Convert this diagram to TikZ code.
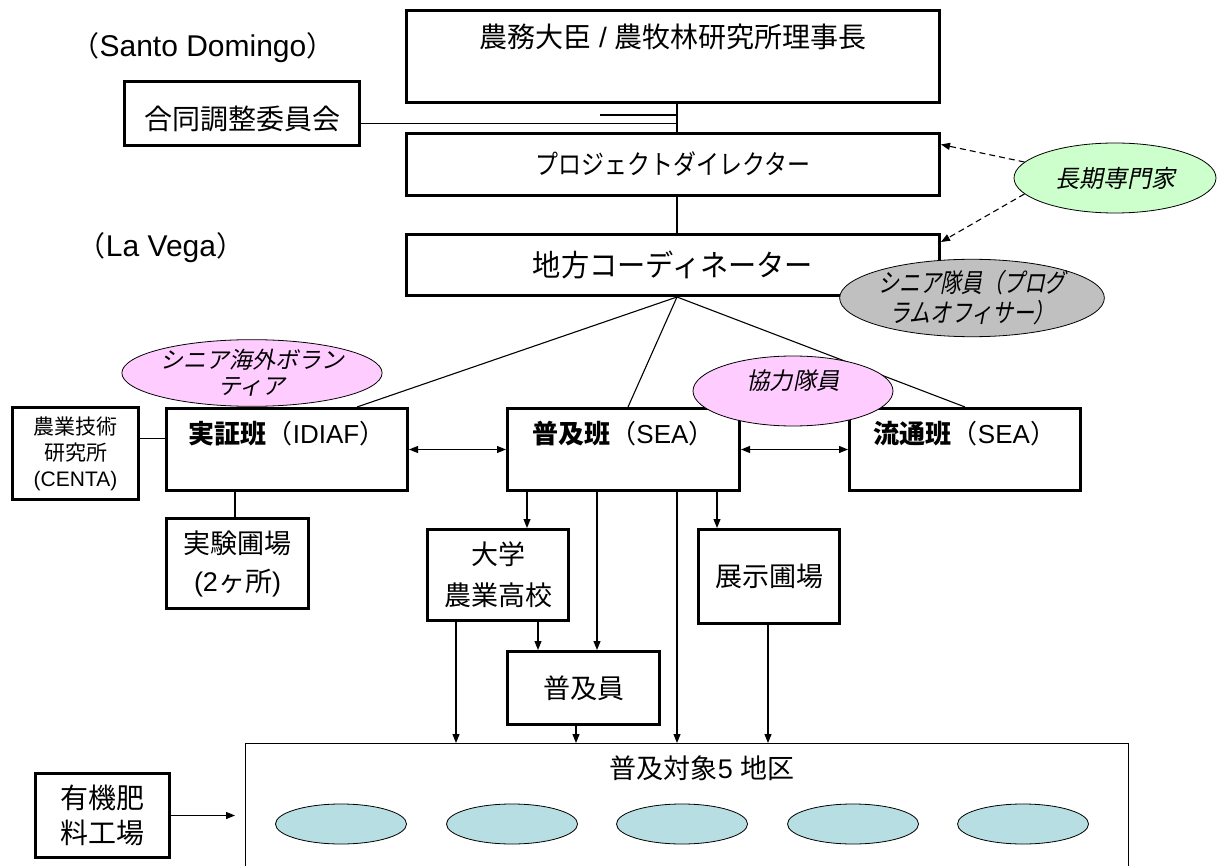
\documentclass[tikz,border=0pt]{standalone}
\usepackage{fontspec}
\setmainfont{Noto Sans CJK JP}
\newfontfamily\lat{Liberation Sans}
\newfontfamily\jpit[FakeSlant=0.2]{Noto Sans CJK JP}
\newfontfamily\jpitc[FakeSlant=0.2,FakeStretch=0.8]{Noto Sans CJK JP}
\newfontfamily\jpn[FakeStretch=0.85]{Noto Sans CJK JP}
\newfontfamily\jpm[FakeStretch=0.94]{Noto Sans CJK JP}
\usetikzlibrary{arrows.meta,shapes.geometric,calc}
\definecolor{chokiG}{RGB}{204,255,204}
\definecolor{grayE}{RGB}{192,192,192}
\definecolor{pinkE}{RGB}{255,204,255}
\definecolor{blueE}{RGB}{183,222,226}
\tikzset{
  box/.style={draw, line width=3pt, fill=white, inner sep=0pt, align=center, anchor=north west},
  conn/.style={line width=1.1pt},
  arr/.style={line width=1.1pt, -{Triangle[length=9pt,width=7pt]}},
  darr/.style={line width=1.1pt, {Triangle[length=9pt,width=7pt]}-{Triangle[length=9pt,width=7pt]}},
  dasharr/.style={line width=1.1pt, dash pattern=on 6pt off 4pt, -{Triangle[length=9pt,width=7pt]}},
  oval/.style={draw, ellipse, line width=0.8pt, inner sep=0pt, align=center},
}
\begin{document}
\begin{tikzpicture}[x=1pt,y=-1pt]
\useasboundingbox (0,0) rectangle (1218,866);
\clip (0,0) rectangle (1218,866);

% labels
\node[inner sep=0pt, font=\fontsize{28}{30}\selectfont] (santo) at (203,48) {（{\lat\fontsize{30}{32}\selectfont Santo Domingo}）};
\node[inner sep=0pt, font=\fontsize{28}{30}\selectfont] (lavega) at (161,248) {（{\lat\fontsize{30}{32}\selectfont La Vega}）};

% top boxes
\node[box, minimum width=533pt, text height=36.6pt, text depth=55.4pt, font=\fontsize{28}{32}\selectfont] (minister) at (405,9) {農務大臣{\lat{} / }農牧林研究所理事長};
\node[box, minimum width=235pt, text height=47.6pt, text depth=16.4pt, font=\fontsize{28}{32}\selectfont] (goudou) at (123,80) {合同調整委員会};
\node[box, minimum width=533pt, minimum height=62pt, font=\jpn\fontsize{27}{31}\selectfont] (projdir) at (405,132) {プロジェクトダイレクター};
\node[box, minimum width=533pt, minimum height=61pt, font=\jpm\fontsize{30}{34}\selectfont] (coord) at (405,233) {地方コーディネーター};

\node[oval, fill=chokiG, minimum width=202pt, minimum height=70pt, font=\jpit\fontsize{24}{28}\selectfont] (choki) at (1115,178) {長期専門家};

% teams
\node[box, minimum width=126pt, minimum height=92pt, font=\fontsize{21}{26}\selectfont] (nogyo) at (11,406) {農業技術\\研究所\\{\lat (CENTA)}};
\node[box, minimum width=241pt, text height=34.9pt, text depth=47.1pt, font=\fontsize{26}{30}\selectfont] (jissho) at (165,407) {{\bfseries 実証班}（{\lat IDIAF}）};
\node[box, minimum width=232pt, text height=34.9pt, text depth=47.1pt, font=\fontsize{26}{30}\selectfont] (fukyu) at (506,407) {{\bfseries 普及班}（{\lat SEA}）};
\node[box, minimum width=231pt, text height=34.9pt, text depth=47.1pt, font=\fontsize{26}{30}\selectfont] (ryutsu) at (848,407) {{\bfseries 流通班}（{\lat SEA}）};

\node[box, minimum width=142pt, minimum height=90pt, font=\fontsize{27}{38}\selectfont] (jikken) at (165,517) {実験圃場\\{\lat (2}ヶ所{\lat )}};
\node[box, minimum width=141pt, minimum height=91pt, font=\fontsize{27}{41}\selectfont] (daigaku) at (426,528) {大学\\農業高校};
\node[box, minimum width=152pt, minimum height=73pt, font=\fontsize{27}{31}\selectfont] (fukyuin) at (506,650) {普及員};
\node[box, minimum width=141pt, minimum height=94pt, font=\fontsize{27}{31}\selectfont] (tenji) at (697,528) {展示圃場};
\node[box, minimum width=134pt, minimum height=84pt, font=\fontsize{28}{35}\selectfont] (yuki) at (34,772) {有機肥\\料工場};

% target area
\node[draw, line width=1.2pt, fill=white, anchor=north west, inner sep=0pt, minimum width=883pt, text height=35pt, text depth=130pt, font=\fontsize{27}{30}\selectfont] (target) at (245,743) {\hspace*{30pt}普及対象{\lat 5 }地区};
\foreach \i/\x in {1/341,2/512,3/682,4/853,5/1023}{
  \node[oval, fill=blueE, minimum width=131pt, minimum height=40pt] (d\i) at (\x,824) {};
}

% column coordinates
\coordinate (cv) at (677,0);
\coordinate (c235) at (235,0);
\coordinate (c456) at (456,0);
\coordinate (c527) at (527,0);
\coordinate (c538) at (538,0);
\coordinate (c576) at (576,0);
\coordinate (c597) at (597,0);
\coordinate (c717) at (717,0);
\coordinate (c768) at (768,0);
\coordinate (stub) at (600,115);
\coordinate (gj) at ([yshift=-10pt]goudou.east);
\coordinate (nj) at ([yshift=15pt]nogyo.east);

% connectors
\draw[conn] (cv |- minister.south) -- (cv |- projdir.north);
\draw[conn] (gj) -- (cv |- gj);
\draw[conn] (stub) -- (cv |- stub);
\draw[conn] (cv |- projdir.south) -- (cv |- coord.north);
\draw[conn] (cv |- coord.south) -- ($(jissho.north west)+(192,0)$);
\draw[conn] (cv |- coord.south) -- ($(fukyu.north west)+(122,0)$);
\draw[conn] (cv |- coord.south) -- ($(ryutsu.north west)+(117,0)$);
\draw[dasharr] (choki.170) -- ([yshift=20pt]projdir.east);
\draw[dasharr] (choki.190) -- ([yshift=23pt]coord.east);
\draw[darr] (jissho.east) -- (fukyu.west);
\draw[darr] (fukyu.east) -- (ryutsu.west);
\draw[conn] (nj) -- (nj -| jissho.west);
\draw[conn] (c235 |- jissho.south) -- (c235 |- jikken.north);
\draw[arr] (c527 |- fukyu.south) -- (c527 |- daigaku.north);
\draw[arr] (c597 |- fukyu.south) -- (c597 |- fukyuin.north);
\draw[arr] (cv |- fukyu.south) -- (cv |- target.north);
\draw[arr] (c717 |- fukyu.south) -- (c717 |- tenji.north);
\draw[arr] (c456 |- daigaku.south) -- (c456 |- target.north);
\draw[arr] (c538 |- daigaku.south) -- (c538 |- fukyuin.north);
\draw[arr] (c576 |- fukyuin.south) -- (c576 |- target.north);
\draw[arr] (c768 |- tenji.south) -- (c768 |- target.north);
\draw[arr, shorten >=10pt] (yuki.east) -- (yuki.east -| target.west);

% overlaid ovals
\node[oval, fill=grayE, minimum width=215pt, minimum height=71pt, font=\jpitc\fontsize{26}{30}\selectfont] (senior) at (972,298) {シニア隊員（プログ\\ラムオフィサー）};
\node[oval, fill=pinkE, minimum width=200pt, minimum height=66pt, font=\jpit\fontsize{23}{26}\selectfont] (svol) at (252,373) {シニア海外ボラン\\ティア};
\node[oval, fill=pinkE, minimum width=200pt, minimum height=70pt, text height=18pt, text depth=22pt, font=\jpit\fontsize{23.5}{27}\selectfont] (kyoryoku) at (793,391) {協力隊員};
\end{tikzpicture}
\end{document}
